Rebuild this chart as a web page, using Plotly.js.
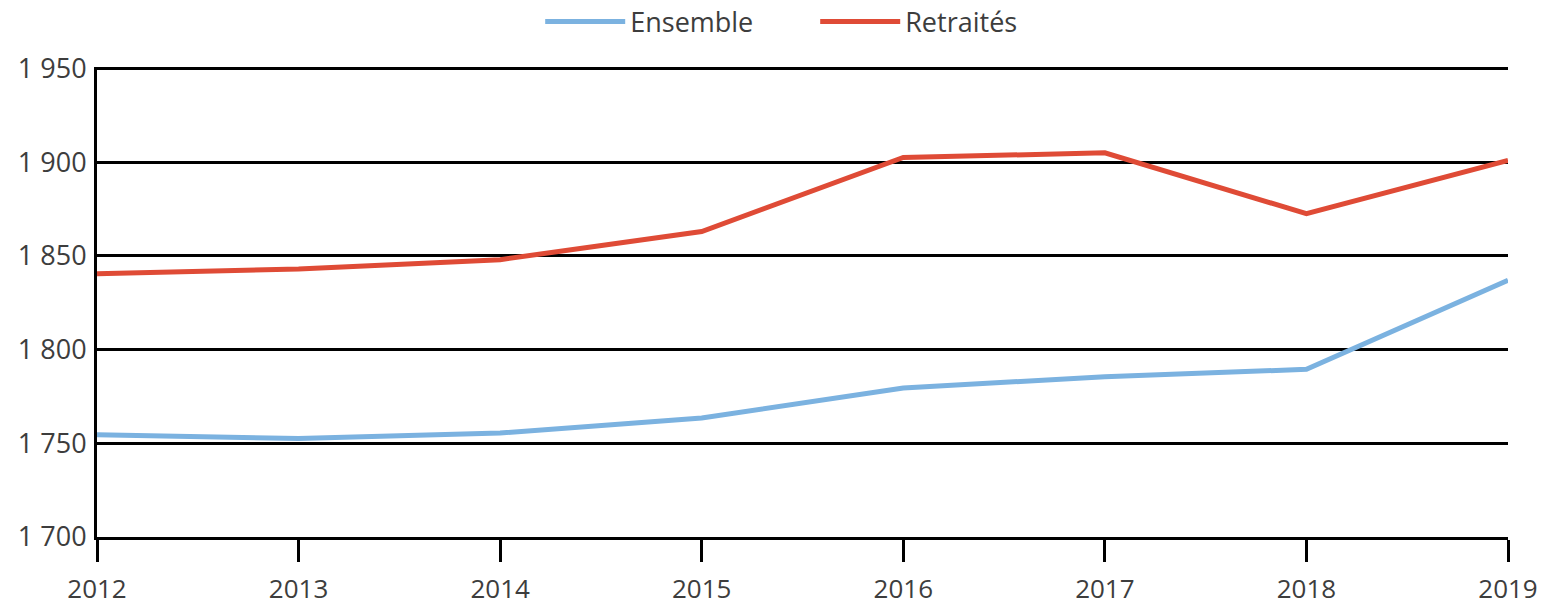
<!DOCTYPE html>
<html><head><meta charset="utf-8">
<script src="https://cdn.plot.ly/plotly-3.0.1.min.js"></script>
<style>html,body{margin:0;padding:0;background:#fff}#chart{width:1548px;height:609px}</style>
</head><body><div id="chart"></div>
<script>
const years = [2012, 2013, 2014, 2015, 2016, 2017, 2018, 2019];
const ensemble = [1754.5, 1752.5, 1755.5, 1763.5, 1779.5, 1785.5, 1789.5, 1837];
const retraites = [1840.5, 1843, 1848, 1863, 1902.5, 1905, 1872.5, 1901];
const seriesNames = ['Ensemble', 'Retraités'];
const yTickVals = [1700, 1750, 1800, 1850, 1900, 1950];
const yTickText = ['1 700', '1 750', '1 800', '1 850', '1 900', '1 950'];
const xTickText = ['2012', '2013', '2014', '2015', '2016', '2017', '2018', '2019'];

const font = {family: '"Open Sans", "Noto Sans", sans-serif', size: 27, color: '#3d3d3d'};
const xFont = {family: font.family, size: 26, color: font.color};
const traces = [
  {x: years, y: ensemble, name: seriesNames[0], type: 'scatter', mode: 'lines',
   line: {color: '#7BB2E0', width: 5}},
  {x: years, y: retraites, name: seriesNames[1], type: 'scatter', mode: 'lines',
   line: {color: '#DF4B36', width: 5}}
];
const layout = {
  width: 1548, height: 609,
  margin: {l: 97, r: 40, t: 67, b: 72, pad: 0, autoexpand: false},
  paper_bgcolor: '#fff', plot_bgcolor: '#fff',
  font: font,
  showlegend: true,
  legend: {orientation: 'h', x: 0.509, xanchor: 'center', y: 1.096, yanchor: 'middle',
           font: font, itemwidth: 80, entrywidth: 180, traceorder: 'normal'},
  xaxis: {range: [2012, 2019], tickvals: years, ticktext: xTickText,
          showgrid: false, zeroline: false, showline: true,
          linecolor: '#000', linewidth: 3,
          ticks: 'outside', ticklen: 22, tickwidth: 3, tickcolor: '#000',
          ticklabelstandoff: 5, tickfont: xFont, fixedrange: true},
  yaxis: {range: [1700, 1950.8], tickvals: yTickVals, ticktext: yTickText,
          showgrid: true, gridcolor: '#000', gridwidth: 3, zeroline: false,
          showline: true, linecolor: '#000', linewidth: 3,
          ticks: '', ticklabelstandoff: 2, tickfont: font, fixedrange: true}
};
Plotly.newPlot('chart', traces, layout, {displayModeBar: false, staticPlot: true});
</script></body></html>
